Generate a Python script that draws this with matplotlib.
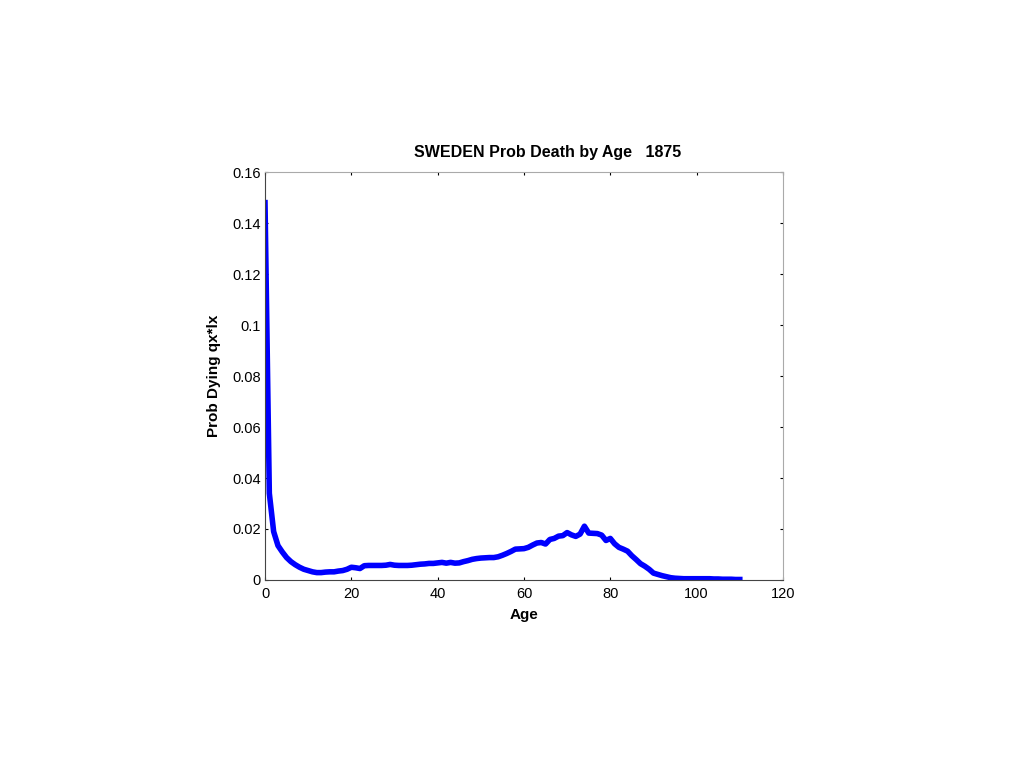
import numpy as np
import matplotlib
matplotlib.use('Agg')
import matplotlib.pyplot as plt

plt.rcParams['font.family'] = ['Liberation Sans', 'DejaVu Sans']

# age 0..110, prob of dying qx*lx
ages = np.arange(0, 111)
prob = [0.148, 0.034, 0.019, 0.0135, 0.011, 0.0088, 0.0072, 0.006, 0.005, 0.0042,
        0.0037, 0.0032, 0.0029, 0.0029, 0.0031, 0.0032, 0.0032, 0.0035, 0.0037, 0.0042,
        0.005, 0.0048, 0.0045, 0.0056, 0.0057, 0.0057, 0.0057, 0.0057, 0.0058, 0.0061,
        0.0058, 0.0057, 0.0057, 0.0057, 0.0058, 0.006, 0.0062, 0.0063, 0.0065, 0.0065,
        0.0067, 0.0069, 0.0066, 0.0069, 0.0066, 0.0067, 0.0072, 0.0076, 0.0081, 0.0084,
        0.0086, 0.0087, 0.0088, 0.0088, 0.0091, 0.0097, 0.0104, 0.0112, 0.0121, 0.0122,
        0.0123, 0.0128, 0.0137, 0.0145, 0.0147, 0.0141, 0.0159, 0.0163, 0.0172, 0.0174,
        0.0186, 0.0177, 0.0171, 0.0180, 0.0211, 0.0184, 0.0183, 0.0182, 0.0176, 0.0155,
        0.0163, 0.0142, 0.0128, 0.0121, 0.0113, 0.0095, 0.0080, 0.0064, 0.0054, 0.0042,
        0.0027, 0.0022, 0.0017, 0.0013, 0.0009, 0.0007, 0.0006, 0.0005, 0.0005, 0.0005,
        0.0005, 0.0005, 0.0005, 0.0005, 0.0004, 0.0004, 0.0003, 0.0003, 0.0003, 0.0002,
        0.0002]
xticks = [0, 20, 40, 60, 80, 100, 120]
yticks = [0, 0.02, 0.04, 0.06, 0.08, 0.1, 0.12, 0.14, 0.16]
ytick_labels = ['0', '0.02', '0.04', '0.06', '0.08', '0.1', '0.12', '0.14', '0.16']

fig = plt.figure(figsize=(10.24, 7.68), dpi=100)
ax = fig.add_axes([0.2588, 0.2448, 0.5058, 0.5312])

ax.plot(ages, prob, color='#0000ff', linewidth=4.0, solid_joinstyle='round')

ax.set_xlim(0, 120)
ax.set_ylim(0, 0.16)
ax.set_xticks(xticks)
ax.set_xticklabels([str(t) for t in xticks])
ax.set_yticks(yticks)
ax.set_yticklabels(ytick_labels)
ax.tick_params(direction='in', length=2.5, width=0.8, top=True, right=True,
               labelsize=10.5, colors='black')
ax.tick_params(axis='x', pad=5)
ax.tick_params(axis='y', pad=3)

for side in ['left', 'bottom']:
    ax.spines[side].set_color('#444444')
for side in ['top', 'right']:
    ax.spines[side].set_color('#aaaaaa')

ax.set_xlabel('Age', fontsize=11, fontweight='bold', labelpad=5)
ax.set_ylabel('Prob Dying qx*lx', fontsize=11, fontweight='bold', labelpad=8)
ax.set_title('SWEDEN Prob Death by Age   1875', fontsize=11.5, fontweight='bold',
             pad=11, x=0.546)

fig.savefig('out.png', dpi=100)
